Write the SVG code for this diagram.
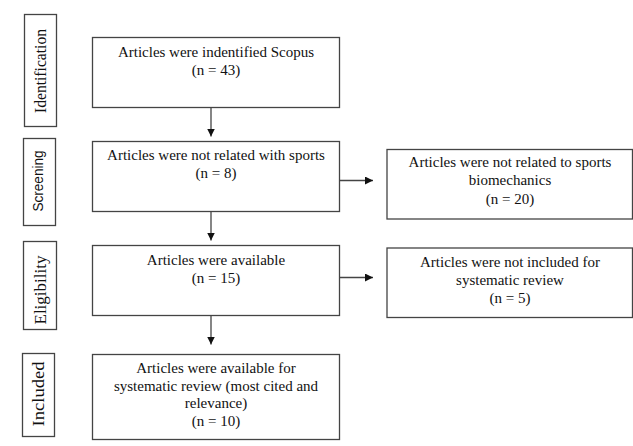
<svg xmlns="http://www.w3.org/2000/svg" width="633" height="446" viewBox="0 0 633 446">
<style>
.box{fill:#fff;stroke:#444;stroke-width:1.3}
.t{font-family:"Liberation Serif","Times New Roman",serif;font-size:15px;fill:#111;text-anchor:middle}
.s{font-family:"Liberation Serif","Times New Roman",serif;font-size:16px;fill:#111;text-anchor:middle}
.ss{font-family:"Liberation Sans",Arial,sans-serif;font-size:14px;fill:#111;text-anchor:middle}
.c{stroke:#444;stroke-width:1.3;fill:none}
</style>
<defs>
<marker id="ah" markerWidth="8" markerHeight="8" viewBox="0 0 8 8" refX="8" refY="4" orient="auto" markerUnits="userSpaceOnUse">
<path d="M0,0 L8,4 L0,8 Z" fill="#111"/>
</marker>
</defs>
<rect width="633" height="446" fill="#fff"/>
<g id="stage-identification">
<rect class="box" x="24.5" y="14.5" width="32" height="112"/>
<text class="s" transform="translate(46,71) rotate(-90)" textLength="84" lengthAdjust="spacingAndGlyphs">Identification</text>
</g>
<g id="stage-screening">
<rect class="box" x="23.5" y="138.5" width="32" height="87"/>
<text class="ss" transform="translate(43,181) rotate(-90)" textLength="61" lengthAdjust="spacingAndGlyphs">Screening</text>
</g>
<g id="stage-eligibility">
<rect class="box" x="23.5" y="241.5" width="33" height="88"/>
<text class="s" transform="translate(45.5,290) rotate(-90)" textLength="69" lengthAdjust="spacingAndGlyphs">Eligibility</text>
</g>
<g id="stage-included">
<rect class="box" x="22.5" y="353.5" width="32" height="83"/>
<text class="s" transform="translate(43.5,394) rotate(-90)" textLength="65" lengthAdjust="spacingAndGlyphs">Included</text>
</g>
<g id="box-identified">
<rect class="box" x="92.5" y="37.5" width="247" height="70"/>
<text class="t" x="216" y="57">Articles were indentified Scopus</text>
<text class="t" x="216" y="75">(n = 43)</text>
</g>
<g id="box-screening">
<rect class="box" x="92.5" y="141.5" width="247" height="70"/>
<text class="t" x="216" y="159.5">Articles were not related with sports</text>
<text class="t" x="216" y="177.5">(n = 8)</text>
</g>
<g id="box-eligibility">
<rect class="box" x="92.5" y="245.5" width="247" height="70"/>
<text class="t" x="216" y="264.5">Articles were available</text>
<text class="t" x="216" y="282.5">(n = 15)</text>
</g>
<g id="box-included">
<rect class="box" x="92.5" y="354.5" width="247" height="85"/>
<text class="t" x="216" y="373">Articles were available for</text>
<text class="t" x="216" y="390.5">systematic review (most cited and</text>
<text class="t" x="216" y="408">relevance)</text>
<text class="t" x="216" y="425.5">(n = 10)</text>
</g>
<g id="box-excluded-biomech">
<rect class="box" x="387" y="149.5" width="245.5" height="69.5"/>
<text class="t" x="510" y="166.5">Articles were not related to sports</text>
<text class="t" x="510" y="185">biomechanics</text>
<text class="t" x="510" y="203.5">(n = 20)</text>
</g>
<g id="box-excluded-review">
<rect class="box" x="387" y="248" width="245.5" height="69.5"/>
<text class="t" x="510" y="266.5">Articles were not included for</text>
<text class="t" x="510" y="285">systematic review</text>
<text class="t" x="510" y="303">(n = 5)</text>
</g>
<g id="connectors">
<line class="c" x1="211" y1="107.5" x2="211" y2="136.5" marker-end="url(#ah)"/>
<line class="c" x1="211" y1="211.5" x2="211" y2="240.5" marker-end="url(#ah)"/>
<line class="c" x1="211" y1="315.5" x2="211" y2="344.5" marker-end="url(#ah)"/>
<line class="c" x1="339.5" y1="180.5" x2="373" y2="180.5" marker-end="url(#ah)"/>
<line class="c" x1="339.5" y1="277.5" x2="373" y2="277.5" marker-end="url(#ah)"/>
</g>
</svg>
